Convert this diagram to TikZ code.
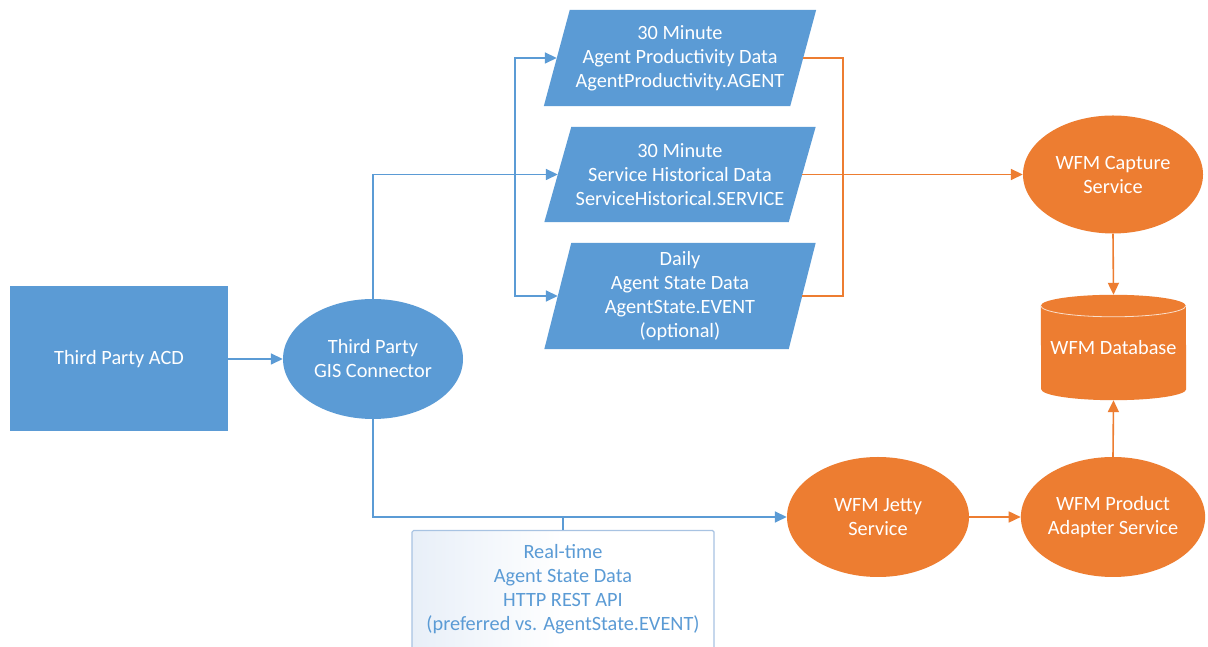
\documentclass[tikz,border=0pt]{standalone}
\usepackage{fontspec}
\setmainfont{Carlito}
\usetikzlibrary{shapes.geometric,arrows.meta,backgrounds,calc}
\definecolor{mblue}{HTML}{5B9BD5}
\definecolor{morange}{HTML}{ED7D31}
\definecolor{rtborder}{HTML}{A8C3E2}
\definecolor{rtlight}{HTML}{E8EFF8}
\begin{document}
\begin{tikzpicture}[x=1pt,y=1pt, font=\fontsize{20.3}{24}\selectfont,
  bshape/.style={fill=mblue, text=white, align=center, inner sep=0pt},
  oshape/.style={fill=morange, text=white, align=center, inner sep=0pt},
  pgram/.style={text=white, align=center, inner sep=0pt},
  bline/.style={draw=mblue, line width=1.6pt},
  oline/.style={draw=morange, line width=1.6pt},
  tip/.style={-{Triangle[length=12pt,width=11pt]}},
  ell/.style={ellipse, minimum width=180pt, minimum height=118pt},
  rtbox/.style={draw=rtborder, line width=1.2pt, rounded corners=1.5pt,
    left color=rtlight, right color=white, middle color=white, minimum width=302pt, minimum height=140pt}]
\useasboundingbox (0,0) rectangle (1208,647);
\clip (0,0) rectangle (1208,647);

% nodes
\node[bshape, minimum width=218pt, minimum height=145pt] (acd) at (119,288) {Third Party ACD};
\node[bshape, ell, minimum height=120pt] (gis) at (373,288) {Third Party\\GIS Connector};
\node[pgram, minimum width=246pt, minimum height=96pt] (p1) at (680,589)
  {30 Minute\\Agent Productivity Data\\AgentProductivity.AGENT};
\node[pgram, minimum width=244pt, minimum height=95pt] (p2) at (680,472.5)
  {30 Minute\\Service Historical Data\\ServiceHistorical.SERVICE};
\node[pgram, minimum width=244pt, minimum height=106pt] (p3) at (680,351)
  {Daily\\Agent State Data\\AgentState.EVENT\\(optional)};
\node[oshape, ell] (cap) at (1113,472.5) {WFM Capture\\Service};
\node[text=white, inner sep=0pt, minimum width=145pt, minimum height=105pt] (db) at (1113.5,299.5) {WFM Database};
\node[oshape, ell, minimum width=182pt, minimum height=120pt] (jt) at (878,130) {WFM Jetty\\Service};
\node[oshape, ell, minimum height=120pt] (ad) at (1113,130) {WFM Product\\Adapter Service};

% background shapes
\begin{scope}[on background layer]
\fill[white] (0,0) rectangle (1208,647);
\foreach \n/\s in {p1/13,p2/13.5,p3/13.5}
  \fill[mblue] ($(\n.north west)+(\s,0)$) -- ($(\n.north east)+(\s,0)$)
     -- ($(\n.south east)+(-\s,0)$) -- ($(\n.south west)+(-\s,0)$) -- cycle;
\fill[morange] ($(db.north west)+(0,-11)$)
   arc[start angle=180, end angle=0, x radius=72.5, y radius=11]
   -- ($(db.south east)+(0,11)$)
   arc[start angle=0, end angle=-180, x radius=72.5, y radius=11] -- cycle;
\draw[white!75!morange, line width=0.8pt] ($(db.north west)+(0,-11)$)
   arc[start angle=180, end angle=360, x radius=72.5, y radius=11];
\end{scope}

% connectors
\coordinate (br) at (515,472.5);
\coordinate (oj) at (843,472.5);
\draw[bline, tip] (acd.east) -- (gis.west);
\draw[bline, tip] (gis.north) |- (p2.west);
\draw[bline, tip] (br) |- (p1.west);
\draw[bline, tip] (br) |- (p3.west);
\draw[oline] (p1.east) -| (oj) |- (p3.east);
\draw[oline, tip] (p2.east) -- (cap.west);
\draw[oline, tip] (cap.south) -- (db.north);
\draw[oline, tip] (ad.north) -- (db.south);
\draw[oline, tip] (jt.east) -- (ad.west);
\draw[bline, tip] (gis.south) |- (jt.west);

% real-time box
\coordinate (tk) at (563,130);
\node[rtbox, anchor=north] (rt) at (563,117) {};
\draw[bline] (tk) -- (rt.north);
\node[text=mblue, align=center, inner sep=0pt] (rtt) at (563,58)
  {Real-time\\Agent State Data\\HTTP REST API\\(preferred vs. AgentState.EVENT)};
\end{tikzpicture}
\end{document}
